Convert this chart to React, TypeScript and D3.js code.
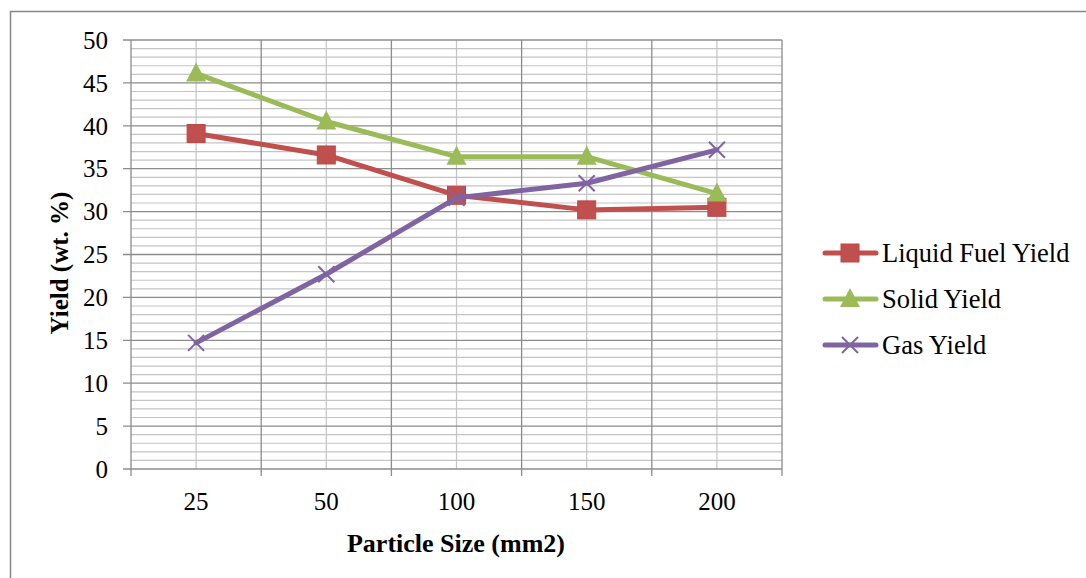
import React, { useRef, useEffect } from 'react';
import * as d3 from 'd3';

const categories = ['25', '50', '100', '150', '200'];
const liquidYield = [39.1, 36.6, 31.9, 30.2, 30.5];
const solidYield = [46.1, 40.5, 36.4, 36.4, 32.1];
const gasYield = [14.7, 22.7, 31.6, 33.3, 37.2];
const yTicks = [0, 5, 10, 15, 20, 25, 30, 35, 40, 45, 50];

const seriesList = [
  { name: 'Liquid Fuel Yield', values: liquidYield, color: '#C0504D', marker: 'square' },
  { name: 'Solid Yield', values: solidYield, color: '#9BBB59', marker: 'triangle' },
  { name: 'Gas Yield', values: gasYield, color: '#8064A2', marker: 'x' },
];

const width = 1086;
const height = 578;
const plot = { left: 131, right: 782, top: 40, bottom: 469 };
const font = '"Liberation Serif", "Times New Roman", serif';

const App: React.FC = () => {
  const svgRef = useRef<SVGSVGElement>(null);

  useEffect(() => {
    if (!svgRef.current) return;
    const svg = d3.select(svgRef.current);
    svg.selectAll('*').remove();

    const x = d3.scaleBand<string>().domain(categories).range([plot.left, plot.right]).padding(0);
    const y = d3.scaleLinear().domain([0, 50]).range([plot.bottom, plot.top]);
    const cx = (c: string) => (x(c) as number) + x.bandwidth() / 2;

    // outer frame
    svg.append('rect')
      .attr('x', 10.5).attr('y', 11.5)
      .attr('width', width).attr('height', height)
      .attr('fill', 'white')
      .attr('stroke', '#868686').attr('stroke-width', 1.5);

    const grid = svg.append('g');
    // minor horizontal
    d3.range(0, 51, 1).filter(v => v % 5 !== 0).forEach(v => {
      grid.append('line')
        .attr('x1', plot.left).attr('x2', plot.right)
        .attr('y1', y(v)).attr('y2', y(v))
        .attr('stroke', '#C4C4C4').attr('stroke-width', 1.2);
    });
    // minor vertical (category centres)
    categories.forEach(c => {
      grid.append('line')
        .attr('x1', cx(c)).attr('x2', cx(c))
        .attr('y1', plot.top).attr('y2', plot.bottom)
        .attr('stroke', '#C4C4C4').attr('stroke-width', 1.2);
    });
    // major horizontal
    yTicks.forEach(v => {
      grid.append('line')
        .attr('x1', plot.left - 8).attr('x2', plot.right)
        .attr('y1', y(v)).attr('y2', y(v))
        .attr('stroke', '#8C8C8C').attr('stroke-width', 1.3);
    });
    // major vertical (category boundaries)
    const bounds = categories.map(c => x(c) as number).concat([plot.right]);
    bounds.forEach(b => {
      grid.append('line')
        .attr('x1', b).attr('x2', b)
        .attr('y1', plot.top).attr('y2', plot.bottom + 7)
        .attr('stroke', '#8C8C8C').attr('stroke-width', 1.3);
    });

    // y tick labels
    svg.append('g').selectAll('text').data(yTicks).enter().append('text')
      .attr('x', 108).attr('y', d => y(d))
      .attr('dy', '0.35em')
      .attr('text-anchor', 'end')
      .attr('font-family', font).attr('font-size', 25)
      .text(d => d);

    // x tick labels
    svg.append('g').selectAll('text').data(categories).enter().append('text')
      .attr('x', d => cx(d)).attr('y', 510)
      .attr('text-anchor', 'middle')
      .attr('font-family', font).attr('font-size', 25)
      .text(d => d);

    // axis titles
    svg.append('text')
      .attr('x', 456).attr('y', 552)
      .attr('text-anchor', 'middle')
      .attr('font-family', font).attr('font-size', 26).attr('font-weight', 'bold')
      .text('Particle Size (mm2)');
    svg.append('text')
      .attr('transform', 'translate(68, 263) rotate(-90)')
      .attr('text-anchor', 'middle')
      .attr('font-family', font).attr('font-size', 25).attr('font-weight', 'bold')
      .text('Yield (wt. %)');

    const drawMarker = (g: d3.Selection<SVGGElement, unknown, null, undefined>, kind: string, px: number, py: number, color: string) => {
      if (kind === 'square') {
        g.append('rect')
          .attr('x', px - 9).attr('y', py - 9)
          .attr('width', 18).attr('height', 18)
          .attr('fill', color).attr('stroke', '#B84A47').attr('stroke-width', 1);
      } else if (kind === 'triangle') {
        g.append('path')
          .attr('d', `M${px},${py - 11} L${px + 10},${py + 8} L${px - 10},${py + 8} Z`)
          .attr('fill', color);
      } else {
        g.append('path')
          .attr('d', `M${px - 8},${py - 8} L${px + 8},${py + 8} M${px - 8},${py + 8} L${px + 8},${py - 8}`)
          .attr('stroke', color).attr('stroke-width', 2).attr('fill', 'none');
      }
    };

    const line = d3.line<number>()
      .x((_, i) => cx(categories[i]))
      .y(d => y(d));

    seriesList.forEach(s => {
      const g = svg.append('g');
      g.append('path')
        .datum(s.values)
        .attr('fill', 'none')
        .attr('stroke', s.color)
        .attr('stroke-width', 5)
        .attr('stroke-linejoin', 'round')
        .attr('stroke-linecap', 'round')
        .attr('d', line);
      s.values.forEach((v, i) => drawMarker(g, s.marker, cx(categories[i]), y(v), s.color));
    });

    // legend
    const legend = svg.append('g');
    seriesList.forEach((s, i) => {
      const ly = 253 + i * 46;
      const lg = legend.append('g');
      lg.append('line')
        .attr('x1', 825).attr('x2', 876)
        .attr('y1', ly).attr('y2', ly)
        .attr('stroke', s.color).attr('stroke-width', 5).attr('stroke-linecap', 'round');
      drawMarker(lg, s.marker, 850, ly, s.color);
      lg.append('text')
        .attr('x', 882).attr('y', ly)
        .attr('dy', '0.35em')
        .attr('font-family', font).attr('font-size', 26.5)
        .text(s.name);
    });
  }, []);

  return (
    <svg
      ref={svgRef}
      width={width}
      height={height}
      style={{ position: 'absolute', left: 0, top: 0, background: 'white' }}
    />
  );
};

export default App;
